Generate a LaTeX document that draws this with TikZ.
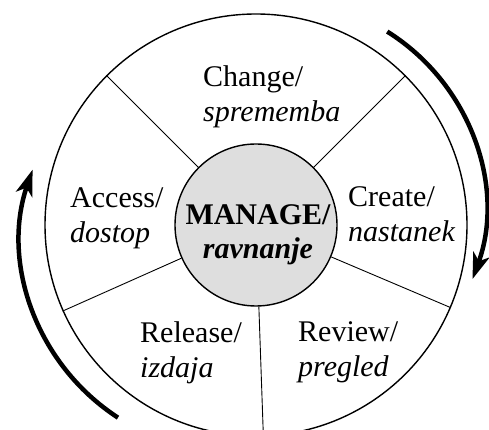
\documentclass[tikz,border=0pt]{standalone}
\usepackage{fontspec}
\setmainfont{Liberation Serif}
\usetikzlibrary{arrows.meta}
\begin{document}
\begin{tikzpicture}[x=1pt,y=1pt,
  lbl/.style={anchor=base west, align=left, inner sep=0pt, font=\fontsize{30}{34.5}\selectfont},
  hublbl/.style={anchor=base, align=center, inner sep=0pt, font=\fontsize{30}{33.5}\selectfont\bfseries},
  ring/.style={circle, draw, line width=1.4pt, inner sep=0pt},
  spoke/.style={line width=0.9pt},
  cycle/.style={line width=4.5pt, -{Stealth[length=26pt, width=17pt, inset=7pt]}}]
\useasboundingbox (0,0) rectangle (489,430);
\clip (0,0) rectangle (489,430);
\node[ring, minimum size=422pt] (rim) at (256,205) {};
\node[ring, minimum size=162pt, fill=gray!26] (hub) at (256,205) {};
\foreach \a in {135,45,-23,-88,204.5} \draw[spoke] (hub.\a) -- (rim.\a);
\node[hublbl] (hubtext) at (258,171.5) {MANAGE/\\\itshape ravnanje};
\node[lbl] (change) at (203,308.5) {Change/\\\itshape sprememba};
\node[lbl] (access) at (70,187.5) {Access/\\\itshape dostop};
\node[lbl] (create) at (348,188.5) {Create/\\\itshape nastanek};
\node[lbl] (release) at (140,52.5) {Release/\\\itshape izdaja};
\node[lbl] (review) at (298,53.5) {Review/\\\itshape pregled};
\coordinate (rc) at (277,222);
\coordinate (lc) at (234,191);
\draw[cycle] (rc) ++(58:208) arc[start angle=58, end angle=-20, radius=208];
\draw[cycle] (lc) ++(237:213) arc[start angle=237, end angle=161, radius=213];
\end{tikzpicture}
\end{document}
